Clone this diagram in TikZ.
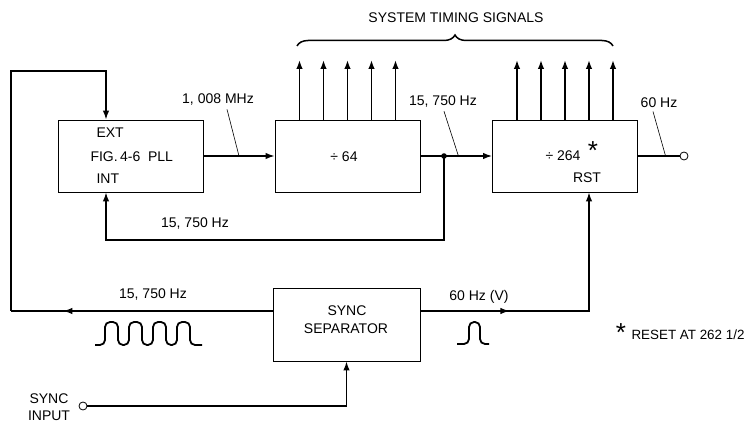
\documentclass[tikz,border=0pt]{standalone}
\usepackage{fontspec}
\setmainfont{Liberation Sans}
\usetikzlibrary{positioning,arrows.meta,calc,decorations.pathreplacing,decorations.markings}

\begin{document}
\begin{tikzpicture}[x=1pt, y=-1pt, every node/.style={font=\fontsize{14}{18}\selectfont}]
  \tikzset{
      block/.style={draw, line width=0.8pt, minimum width=145pt, minimum height=72pt, inner sep=0pt},
      wire/.style={line width=1.5pt},
      sig/.style={wire, -{Latex[length=9pt,width=6.5pt]}},
      lead/.style={line width=0.6pt},
      jack/.style={circle, draw, line width=0.8pt, minimum size=8pt, inner sep=0pt, fill=white},
      midarrow/.style={postaction={decorate}, decoration={markings,
          mark=at position #1 with {\arrow{Latex[length=9pt,width=6.5pt]}}}},
      pulse/.style={line width=1.8pt, rounded corners=5pt},
      bigstar/.style={font=\fontsize{26}{26}\selectfont, inner sep=0pt}
  }
  \useasboundingbox (0,0) rectangle (745,422);

  % blocks
  \node[block] (pll)    at (130.5,156) {};
  \node[block] (div64)  at (347.5,156) {};
  \node[block] (div264) at (565,156)   {};
  \node[block, minimum width=147pt, minimum height=73pt] (sep) at (346.5,324.5) {};

  \node[anchor=west] (pllext)  at (93,133) {EXT};
  \node[anchor=west] (pllname) at (87,157) {FIG.\,4-6\ \ PLL};
  \node[anchor=west] (pllint)  at (93,179) {INT};
  \node (div64txt)  at (344,157) {÷ 64};
  \node (div264txt) at (563,156) {÷ 264};
  \node[bigstar] (star) at (593,151) {*};
  \node (rsttxt) at (587,178) {RST};
  \node (septxt1) at (347,311) {SYNC};
  \node (septxt2) at (346,329) {SEPARATOR};

  % ports
  \coordinate (extin) at ([xshift=-24.5pt]pll.north);
  \coordinate (intin) at ([xshift=-24.5pt]pll.south);
  \coordinate (rstin) at ([xshift=24pt]div264.south);
  \coordinate (sepl)  at ([yshift=13.5pt]sep.west);
  \coordinate (sepr)  at ([yshift=13.5pt]sep.east);
  \coordinate (jn)    at (444,156);
  \coordinate (fbrow) at (0,240);
  \coordinate (lpbot) at (11,311);
  \coordinate (lptop) at (11,71);
  \coordinate (sigtop) at (0,60);

  % main chain
  \draw[sig] (pll) -- (div64);
  \draw[sig] (div64) -- (div264);
  \fill (jn) circle (2.8pt);
  \draw[sig] (jn) -- (jn |- fbrow) -| (intin);
  \node[jack] (out60) at (684,156) {};
  \draw[wire] (div264) -- (out60);

  % system timing signals
  \foreach \dx in {-48,-24,0,24,48} {
      \draw[sig] ([xshift=\dx pt]div64.north) coordinate (s) -- (s |- sigtop);
      \draw[sig] ([xshift=\dx pt]div264.north) coordinate (t) -- (t |- sigtop);
  }
  \draw[decorate, decoration={brace, amplitude=11pt}, line width=1.5pt] (297,46) -- (613,46);
  \node (lblsys) at (456,18) {SYSTEM TIMING SIGNALS};

  % labels with leaders
  \node (lblmhz) at (218,100) {1, 008 MHz};
  \draw[lead] ([xshift=9pt]lblmhz.south) -- ($(pll.east)!0.5!(div64.west)$);
  \node (lblline) at (443,102) {15, 750 Hz};
  \draw[lead] ([xshift=1pt]lblline.south) -- ($(jn)!0.3!(div264.west)$);
  \node (lbl60) at (659,103) {60 Hz};
  \draw[lead] ([xshift=-6pt]lbl60.south) -- ($(div264.east)!0.6!(out60)$);
  \node (lblfb) at (195,224) {15, 750 Hz};

  % sync separator outputs
  \draw[wire, midarrow=0.8] (sepl) -- (lpbot);
  \draw[sig] (lpbot) -- (lptop) -| (extin);
  \draw[sig, midarrow=0.31] (sepr) -| (rstin);
  \node (lblh) at (153,295) {15, 750 Hz};
  \node (lblv) at (479,297) {60 Hz (V)};

  % waveforms
  \draw[pulse] (95,345) -- (105,345) -- (105,322) -- (118,322) -- (118,345) -- (129,345)
      -- (129,322) -- (142,322) -- (142,345) -- (153,345) -- (153,322) -- (166,322)
      -- (166,345) -- (177,345) -- (177,322) -- (190,322) -- (190,345) -- (202,345);
  \draw[pulse] (457,344) -- (469,344) -- (469,322) -- (480,322) -- (480,344) -- (489,344);

  % sync input
  \node[jack] (syncin) at (83,406) {};
  \node[align=center, font=\fontsize{14}{17}\selectfont] (synclbl) at (49,407) {SYNC\\INPUT};
  \draw[sig] (syncin) -| (sep.south);

  % footnote
  \node[bigstar] (star2) at (621,333) {*};
  \node[anchor=west, font=\fontsize{13.4}{16}\selectfont] (resetnote) at (628,335) {RESET AT 262 1/2};
\end{tikzpicture}
\end{document}
